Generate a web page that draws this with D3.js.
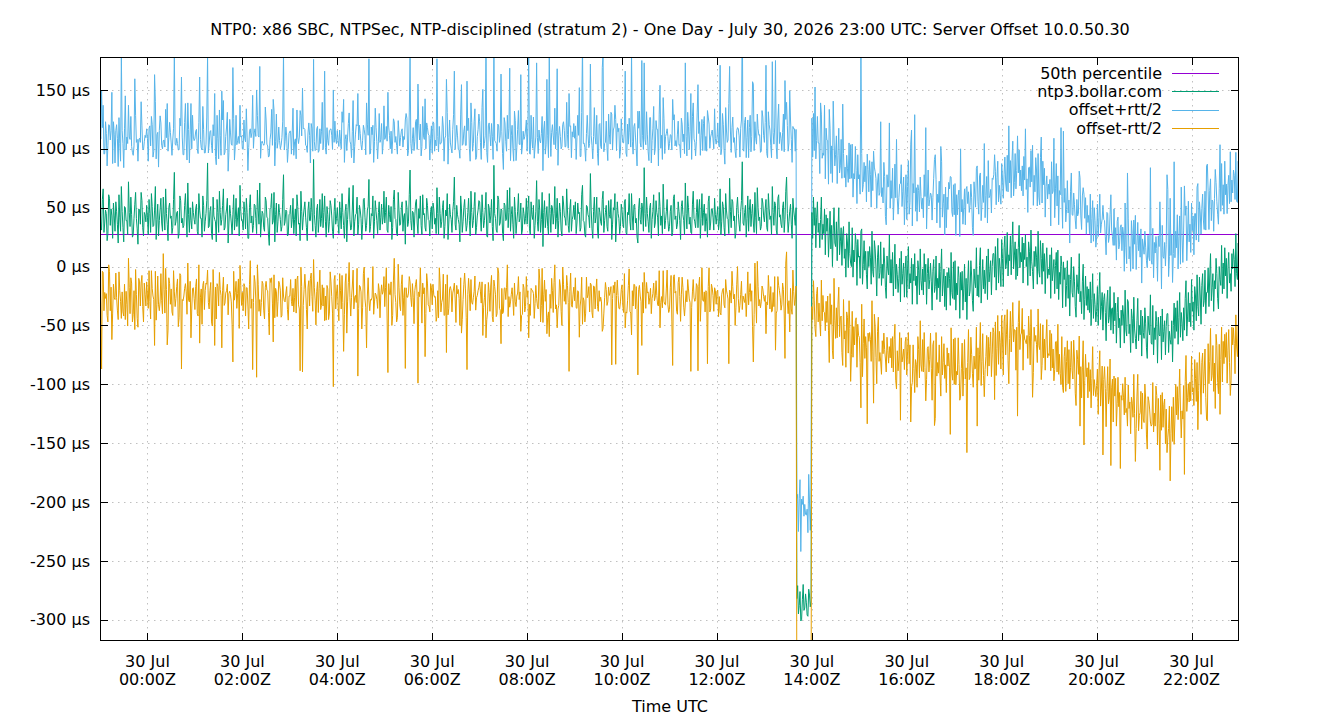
<!DOCTYPE html>
<html>
<head>
<meta charset="UTF-8">
<title>NTP0 Server Offset 10.0.50.30</title>
<script src="https://cdn.jsdelivr.net/npm/d3@7"></script>
<style>
    body {
        margin: 0;
        background-color: #ffffff;
    }
    text {
        font-family: "DejaVu Sans", sans-serif;
        font-size: 16px;
        fill: #000000;
    }
    .grid line {
        stroke: #c0c0c0;
        stroke-width: 1px;
        stroke-dasharray: 1.5, 4.5;
    }
    .series {
        fill: none;
        stroke-width: 1px;
    }
</style>
</head>
<body>
<div id="chart"></div>
<script>
    var chartTitle = "NTP0: x86 SBC, NTPSec, NTP-disciplined (stratum 2) - One Day - July 30, 2026 23:00 UTC: Server Offset 10.0.50.30";
    var xAxisTitle = "Time UTC";
    var seriesNames = ["50th percentile", "ntp3.bollar.com", "offset+rtt/2", "offset-rtt/2"];
    var seriesColors = ["#9400d3", "#009e73", "#56b4e9", "#e69f00"];

    var startTime = "2026-07-29T23:00:00Z";
    var endTime = "2026-07-30T23:00:00Z";
    var sampleMinutes = 1;
    var percentile50 = 28;   // µs

    var yTicks = [-300, -250, -200, -150, -100, -50, 0, 50, 100, 150];
    var xTicks = ["2026-07-30T00:00:00Z", "2026-07-30T02:00:00Z", "2026-07-30T04:00:00Z",
                  "2026-07-30T06:00:00Z", "2026-07-30T08:00:00Z", "2026-07-30T10:00:00Z",
                  "2026-07-30T12:00:00Z", "2026-07-30T14:00:00Z", "2026-07-30T16:00:00Z",
                  "2026-07-30T18:00:00Z", "2026-07-30T20:00:00Z", "2026-07-30T22:00:00Z"];

    // clock offset of ntp3.bollar.com in µs, one sample a minute (six lines = one hour)
    var offsetUs = [
        // 23:00
        52, 38, 31, 57, 66, 29, 37, 48, 45, 22,
        28, 61, 58, 35, 49, 43, 24, 54, 43, 30,
        55, 47, 36, 20, 61, 42, 30, 68, 47, 33,
        21, 51, 50, 39, 39, 27, 72, 46, 34, 59,
        44, 25, 27, 41, 53, 63, 41, 32, 19, 49,
        48, 36, 63, 56, 33, 26, 46, 44, 38, 52,
        // 00:00
        42, 27, 57, 45, 29, 62, 51, 34, 35, 48,
        68, 23, 40, 53, 26, 39, 49, 58, 37, 30,
        59, 44, 31, 66, 45, 36, 22, 50, 54, 41,
        43, 28, 33, 57, 80, 35, 38, 46, 47, 24,
        28, 60, 56, 37, 41, 33, 35, 52, 62, 43,
        25, 71, 44, 29, 50, 39, 32, 55, 46, 40,
        // 01:00
        36, 49, 53, 30, 27, 62, 48, 41, 41, 25,
        60, 52, 30, 38, 45, 56, 88, 33, 34, 47,
        51, 28, 23, 59, 43, 40, 38, 21, 57, 46,
        29, 64, 46, 35, 40, 52, 66, 31, 33, 44,
        49, 58, 20, 37, 52, 45, 37, 27, 44, 61,
        31, 40, 58, 34, 42, 50, 26, 69, 47, 39,
        // 02:00
        39, 31, 55, 46, 32, 58, 46, 24, 24, 50,
        61, 37, 43, 29, 35, 53, 52, 41, 28, 65,
        48, 36, 71, 25, 37, 47, 45, 33, 30, 59,
        56, 42, 41, 27, 18, 49, 50, 62, 36, 39,
        63, 21, 44, 54, 29, 38, 53, 46, 40, 30,
        34, 57, 78, 35, 38, 48, 47, 26, 27, 44,
        // 03:00
        45, 52, 33, 40, 58, 28, 40, 49, 26, 61,
        51, 36, 37, 22, 64, 47, 31, 42, 49, 55,
        42, 33, 22, 48, 55, 39, 39, 58, 46, 30,
        91, 44, 35, 25, 48, 53, 29, 40, 57, 34,
        41, 62, 33, 46, 60, 38, 25, 51, 44, 29,
        38, 56, 52, 43, 30, 24, 47, 58, 36, 41,
        // 04:00
        50, 37, 28, 55, 43, 32, 62, 46, 35, 24,
        47, 53, 21, 40, 54, 67, 40, 31, 33, 49,
        69, 26, 38, 44, 45, 59, 27, 36, 52, 48,
        41, 23, 36, 57, 58, 42, 30, 35, 48, 51,
        74, 29, 34, 45, 43, 60, 24, 38, 56, 47,
        39, 28, 46, 55, 31, 42, 53, 36, 42, 64,
        // 05:00
        37, 46, 59, 31, 29, 52, 44, 38, 51, 23,
        33, 57, 65, 41, 40, 28, 26, 63, 48, 35,
        36, 50, 55, 30, 42, 45, 19, 56, 50, 34,
        38, 61, 82, 39, 31, 47, 46, 25, 43, 54,
        57, 37, 28, 49, 41, 60, 35, 27, 61, 44,
        45, 33, 30, 58, 52, 40, 39, 26, 47, 51,
        // 06:00
        32, 54, 49, 36, 41, 28, 67, 45, 27, 59,
        45, 33, 38, 50, 56, 24, 34, 48, 43, 62,
        23, 37, 53, 44, 40, 29, 47, 55, 76, 36,
        31, 52, 44, 40, 36, 21, 60, 49, 29, 38,
        50, 57, 42, 30, 35, 46, 58, 39, 26, 64,
        46, 33, 39, 51, 63, 27, 33, 43, 48, 56,
        // 07:00
        55, 42, 30, 61, 46, 33, 39, 48, 63, 26,
        25, 53, 50, 37, 43, 57, 34, 22, 86, 45,
        41, 31, 29, 60, 57, 35, 37, 49, 48, 28,
        22, 54, 52, 39, 40, 65, 33, 46, 67, 30,
        44, 51, 36, 24, 59, 47, 28, 38, 47, 62,
        38, 41, 54, 27, 31, 50, 45, 36, 41, 58,
        // 08:00
        36, 49, 60, 32, 27, 55, 44, 40, 52, 24,
        35, 47, 73, 38, 30, 57, 48, 29, 40, 63,
        17, 46, 56, 33, 42, 51, 34, 27, 62, 45,
        29, 52, 50, 36, 45, 68, 32, 41, 58, 25,
        39, 54, 47, 31, 26, 60, 54, 43, 41, 35,
        66, 48, 35, 29, 49, 57, 30, 40, 43, 52,
        // 09:00
        40, 55, 28, 37, 54, 45, 46, 30, 33, 61,
        69, 39, 38, 27, 25, 52, 51, 44, 42, 33,
        79, 48, 32, 24, 47, 59, 37, 42, 59, 31,
        24, 50, 46, 38, 35, 57, 64, 29, 39, 46,
        52, 34, 30, 56, 44, 41, 57, 23, 36, 50,
        48, 62, 21, 37, 55, 45, 41, 28, 34, 53,
        // 10:00
        48, 36, 33, 55, 57, 29, 27, 46, 44, 62,
        38, 31, 62, 43, 31, 52, 53, 37, 41, 25,
        20, 49, 58, 40, 36, 54, 49, 30, 84, 45,
        34, 59, 45, 38, 29, 50, 54, 24, 40, 47,
        61, 33, 37, 56, 46, 42, 26, 63, 51, 35,
        43, 28, 70, 48, 32, 39, 47, 57, 39, 30,
        // 11:00
        34, 47, 52, 26, 29, 58, 61, 40, 43, 32,
        36, 55, 47, 39, 23, 51, 56, 44, 39, 27,
        71, 45, 32, 60, 50, 36, 42, 29, 28, 53,
        64, 41, 38, 33, 46, 57, 33, 48, 57, 24,
        41, 62, 35, 46, 53, 30, 45, 38, 25, 55,
        60, 31, 37, 49, 49, 42, 31, 58, 44, 36,
        // 12:00
        44, 51, 31, 38, 66, 27, 38, 55, 51, 33,
        26, 62, 48, 41, 40, 28, 75, 47, 33, 57,
        55, 39, 43, 24, 29, 50, 59, 45, 36, 30,
        47, 56, 89, 37, 35, 46, 52, 25, 41, 60,
        30, 48, 57, 34, 45, 53, 37, 29, 63, 42,
        28, 67, 50, 39, 42, 31, 34, 58, 54, 43,
        // 13:00 (step at 13:41)
        38, 49, 57, 33, 30, 62, 49, 40, 43, 27,
        68, 46, 35, 55, 52, 31, 27, 58, 61, 42,
        44, 36, 33, 50, 55, 29, 40, 64, 76, 45,
        29, 38, 47, 53, 36, 24, 58, 48, 42, 35,
        50, -282, -271, -295, -288, -276, -301, -300, -283, -270,
        -292, -290, -278, -285, -296, -297, -274, -279, -289, -284,
        // 14:00
        46, 24, 59, 35, 50, 16, 42, 55, 29, 37,
        16, 40, 59, 23, 36, 28, 49, 10, 44, 30,
        41, 8, 26, 47, 15, 35, 0, 31, 50, 20,
        17, 38, 5, 31, 50, 10, 21, 33, 1, 27,
        34, 7, 15, -9, 28, 20, -1, 38, 11, 3,
        0, 33, -9, 14, 4, 28, 19, -16, 23, 8,
        // 15:00
        9, -10, 30, 32, -15, 2, 22, -3, 13, -7,
        -19, 13, 0, 17, 8, -15, 30, -4, -9, 22,
        15, -1, -25, 8, 18, -10, -5, 21, -16, 2,
        -10, 16, 3, -18, -27, 9, -2, -7, 27, -14,
        6, -14, 12, -25, -2, 19, -19, 2, -7, -22,
        -10, 7, -30, 13, -15, -6, 3, -26, -2, 9,
        // 16:00
        -26, -2, 17, -19, -6, -14, 7, -32, 2, -12,
        11, -16, -8, -32, 5, -3, -24, 15, -12, -20,
        -2, -24, 11, -13, 2, -32, -6, 7, -19, -11,
        3, -13, -37, -4, 6, -22, -17, 9, -28, -10,
        -18, 3, -30, -4, 15, -25, -14, -2, -34, -8,
        -37, -5, -18, -1, -10, -33, 12, -22, -27, 4,
        // 17:00
        -28, 5, -37, -14, -24, 0, -9, -44, -5, -20,
        -4, -37, -19, 2, -30, -10, -45, -14, 5, -25,
        -21, 5, -8, -29, -38, -2, -13, -18, 16, -25,
        -7, -26, 1, 16, -31, -14, 6, -19, -3, -23,
        -8, 9, -28, 15, -13, -4, 5, -24, 0, 11,
        11, -9, 17, -20, 3, 24, -14, 7, -2, -17,
        // 18:00
        23, 7, -17, 16, 26, -2, 3, 29, -8, 10,
        5, 26, -7, 19, 38, -2, 9, 21, -11, 15,
        -8, 16, 35, -1, 12, 4, 25, -14, 20, 6,
        27, 0, 8, -16, 21, 13, -8, 31, 4, -4,
        -19, 13, 0, 17, 8, -15, 30, -4, -9, 22,
        7, -15, 20, -4, 11, -23, 3, 16, -10, -2,
        // 19:00
        -7, 10, -27, 16, -12, -3, 6, -23, 1, 12,
        -19, 14, -28, -5, -15, 9, 0, -35, 4, -11,
        -1, -34, -16, 5, -27, -7, -42, -11, 8, -22,
        -26, 0, -13, -34, -43, -7, -18, -23, 11, -30,
        -21, -40, -13, 2, -45, -28, -8, -33, -17, -37,
        -19, -39, -13, -50, -27, -6, -44, -23, -32, -47,
        // 20:00
        -38, -17, -50, -24, -5, -45, -34, -22, -54, -28,
        -23, -39, -63, -30, -20, -48, -43, -17, -54, -36,
        -35, -57, -22, -46, -31, -65, -39, -26, -52, -44,
        -69, -37, -50, -33, -42, -65, -20, -54, -59, -28,
        -30, -57, -49, -73, -36, -44, -65, -26, -53, -61,
        -70, -46, -27, -63, -50, -58, -37, -76, -42, -56,
        // 21:00
        -61, -35, -48, -69, -78, -42, -53, -58, -24, -65,
        -66, -33, -75, -52, -62, -38, -47, -82, -43, -58,
        -59, -42, -79, -36, -64, -55, -46, -75, -51, -40,
        -40, -73, -55, -62, -66, -46, -81, -50, -31, -61,
        -35, -55, -29, -66, -43, -22, -60, -39, -48, -63,
        -35, -54, -27, -12, -59, -42, -22, -47, -31, -51,
        // 22:00
        -11, -38, -30, -54, -17, -25, -46, -7, -34, -42,
        -9, -25, -49, -16, -6, -34, -29, -3, -40, -22,
        -22, -1, -34, -8, 11, -29, -18, -6, -38, -12,
        -19, 7, -6, -27, -36, 0, -11, -16, 18, -23,
        3, -19, 16, -8, 7, -27, -1, 12, -14, -6,
        -21, 11, -2, 15, 6, -17, 28, -6, -11, 20,
        // 23:00
        4
    ];

    // round trip time of the same samples in µs
    var rttUs = [
        // 23:00
        128, 141, 236, 122, 142, 133, 118, 150, 136, 127,
        150, 119, 124, 145, 133, 210, 127, 138, 139, 116,
        121, 147, 146, 130, 131, 125, 119, 224, 137, 143,
        126, 132, 190, 120, 142, 155, 130, 128, 148, 137,
        116, 144, 135, 123, 213, 131, 129, 152, 141, 118,
        122, 139, 154, 127, 134, 146, 120, 135, 143, 130,
        // 00:00
        134, 125, 121, 149, 147, 131, 139, 118, 126, 230,
        144, 137, 144, 122, 117, 153, 158, 128, 132, 140,
        96, 127, 141, 135, 129, 205, 152, 119, 137, 146,
        124, 133, 149, 121, 203, 138, 130, 126, 115, 150,
        143, 132, 127, 248, 138, 124, 120, 141, 153, 129,
        131, 136, 145, 118, 125, 199, 136, 147, 128, 134,
        // 01:00
        145, 132, 127, 140, 138, 121, 226, 134, 120, 148,
        152, 129, 133, 117, 118, 142, 182, 127, 140, 135,
        129, 150, 147, 123, 136, 214, 111, 131, 143, 126,
        125, 138, 131, 119, 218, 145, 150, 128, 128, 133,
        139, 146, 122, 120, 146, 137, 134, 152, 250, 130,
        119, 124, 141, 139, 130, 121, 157, 136, 126, 144,
        // 02:00
        122, 137, 139, 126, 148, 152, 128, 115, 154, 130,
        112, 145, 141, 233, 131, 121, 130, 139, 244, 127,
        126, 148, 198, 134, 135, 119, 119, 140, 149, 153,
        137, 124, 123, 132, 152, 118, 127, 143, 134, 206,
        140, 129, 125, 151, 143, 135, 131, 122, 120, 146,
        151, 133, 206, 128, 136, 141, 128, 125, 145, 138,
        // 03:00
        140, 126, 125, 147, 153, 133, 132, 119, 131, 144,
        118, 137, 146, 221, 129, 128, 241, 150, 137, 123,
        122, 139, 150, 131, 134, 145, 98, 127, 143, 136,
        170, 124, 127, 149, 138, 132, 136, 117, 120, 141,
        148, 155, 133, 128, 212, 126, 141, 134, 126, 148,
        155, 121, 130, 137, 139, 252, 117, 131, 144, 127,
        // 04:00
        131, 140, 148, 122, 127, 136, 139, 153, 214, 129,
        122, 118, 155, 140, 135, 127, 133, 146, 119, 131,
        144, 124, 128, 137, 151, 121, 240, 143, 136, 130,
        125, 152, 142, 126, 117, 139, 130, 208, 146, 121,
        205, 133, 124, 147, 138, 120, 129, 136, 157, 142,
        134, 127, 121, 150, 149, 132, 137, 119, 126, 145,
        // 05:00
        142, 128, 120, 151, 238, 133, 135, 124, 128, 146,
        149, 137, 116, 129, 141, 150, 139, 122, 131, 135,
        147, 130, 124, 143, 137, 126, 211, 148, 152, 120,
        121, 139, 190, 131, 130, 123, 144, 147, 127, 138,
        136, 125, 254, 141, 133, 122, 118, 150, 150, 134,
        126, 219, 140, 128, 132, 145, 145, 129, 123, 137,
        // 06:00
        129, 138, 146, 124, 133, 149, 219, 131, 141, 120,
        118, 143, 137, 155, 125, 131, 150, 126, 232, 138,
        128, 145, 143, 122, 121, 135, 139, 148, 180, 127,
        157, 136, 134, 119, 126, 142, 139, 211, 148, 132,
        130, 125, 122, 146, 245, 139, 136, 123, 127, 150,
        153, 130, 131, 144, 142, 128, 119, 135, 137, 147,
        // 07:00
        136, 127, 122, 148, 209, 135, 131, 126, 247, 142,
        127, 133, 144, 150, 119, 129, 153, 138, 195, 124,
        130, 147, 138, 122, 125, 141, 148, 229, 133, 136,
        121, 145, 140, 134, 116, 127, 151, 143, 203, 120,
        135, 138, 128, 131, 146, 154, 124, 126, 139, 141,
        132, 125, 218, 137, 143, 130, 126, 149, 150, 133,
        // 08:00
        124, 139, 241, 128, 137, 147, 128, 121, 150, 136,
        133, 126, 200, 143, 132, 118, 119, 152, 146, 129,
        129, 140, 135, 125, 123, 216, 154, 131, 243, 137,
        129, 124, 141, 150, 117, 133, 136, 147, 220, 122,
        144, 130, 127, 138, 152, 121, 138, 145, 121, 134,
        147, 128, 131, 236, 140, 125, 125, 149, 134, 139,
        // 09:00
        138, 129, 126, 145, 149, 133, 212, 127, 121, 140,
        236, 131, 134, 148, 129, 122, 155, 136, 118, 143,
        186, 127, 142, 135, 127, 152, 146, 124, 139, 130,
        124, 141, 151, 128, 130, 224, 233, 137, 131, 119,
        143, 134, 120, 147, 137, 126, 148, 213, 126, 132,
        141, 150, 208, 123, 133, 139, 153, 128, 128, 145,
        // 10:00
        127, 139, 144, 122, 218, 135, 133, 150, 120, 128,
        152, 141, 240, 127, 129, 134, 137, 146, 116, 121,
        224, 137, 148, 130, 131, 242, 125, 139, 178, 126,
        139, 145, 135, 119, 122, 153, 145, 128, 134, 140,
        150, 124, 126, 136, 141, 149, 119, 133, 206, 131,
        137, 126, 147, 155, 128, 143, 132, 120, 143, 138,
        // 11:00
        141, 130, 119, 146, 226, 133, 136, 125, 128, 140,
        153, 137, 112, 129, 139, 150, 130, 124, 147, 138,
        204, 131, 124, 142, 138, 127, 145, 236, 126, 149,
        150, 135, 135, 122, 121, 147, 243, 130, 132, 141,
        140, 126, 127, 151, 149, 137, 131, 120, 215, 144,
        122, 139, 146, 128, 134, 133, 138, 152, 129, 136,
        // 12:00
        130, 142, 147, 127, 210, 136, 124, 150, 139, 131,
        122, 146, 136, 129, 135, 221, 190, 138, 128, 122,
        144, 133, 133, 148, 127, 131, 118, 144, 150, 126,
        141, 137, 251, 124, 126, 153, 150, 135, 137, 129,
        125, 140, 143, 127, 131, 208, 236, 139, 120, 134,
        152, 125, 134, 145, 140, 132, 128, 149, 146, 137,
        // 13:00
        135, 147, 228, 126, 125, 139, 143, 152, 120, 131,
        212, 136, 138, 127, 246, 141, 129, 133, 154, 125,
        140, 146, 131, 128, 149, 137, 236, 122, 127, 150,
        138, 134, 205, 143, 144, 129, 122, 138, 150, 126,
        133, 170, 155, 140, 182, 190, 118, 205, 162, 150,
        160, 176, 135, 148, 180, 142, 195, 158, 130, 166,
        // 14:00
        160, 138, 142, 127, 205, 151, 130, 145, 152, 136,
        126, 198, 141, 138, 121, 133, 176, 129, 147, 155,
        132, 124, 215, 140, 128, 135, 143, 219, 120, 131,
        156, 146, 131, 127, 135, 139, 129, 150, 148, 222,
        124, 137, 139, 153, 133, 126, 145, 134, 127, 201,
        150, 142, 136, 130, 141, 148, 125, 139, 144, 133,
        // 15:00
        138, 143, 300, 128, 157, 135, 133, 150, 145, 124,
        229, 139, 127, 146, 140, 131, 118, 137, 214, 125,
        131, 152, 149, 126, 122, 141, 136, 204, 151, 130,
        128, 145, 147, 121, 125, 138, 139, 150, 190, 127,
        134, 144, 143, 129, 120, 136, 155, 212, 129, 133,
        137, 126, 201, 147, 132, 140, 146, 123, 124, 138,
        // 16:00
        132, 140, 146, 127, 121, 236, 218, 133, 137, 149,
        236, 126, 150, 141, 129, 135, 141, 122, 143, 138,
        120, 131, 134, 145, 232, 128, 127, 150, 141, 136,
        119, 147, 153, 125, 138, 226, 224, 130, 130, 143,
        145, 139, 126, 212, 149, 134, 135, 127, 122, 151,
        140, 128, 133, 145, 152, 219, 128, 137, 139, 131,
        // 17:00
        144, 131, 127, 150, 136, 121, 148, 139, 210, 133,
        122, 146, 139, 128, 131, 152, 226, 135, 117, 142,
        146, 130, 133, 124, 129, 148, 148, 137, 135, 221,
        124, 141, 152, 127, 140, 133, 126, 147, 215, 129,
        137, 135, 130, 150, 143, 128, 121, 139, 150, 126,
        134, 208, 128, 145, 145, 131, 138, 124, 125, 140,
        // 18:00
        129, 137, 150, 125, 134, 146, 122, 131, 143, 219,
        132, 128, 131, 142, 137, 124, 125, 150, 154, 133,
        238, 127, 128, 139, 140, 121, 121, 148, 147, 135,
        180, 131, 133, 124, 126, 143, 151, 135, 136, 214,
        142, 129, 127, 151, 148, 133, 132, 126, 123, 141,
        206, 138, 139, 147, 145, 130, 130, 122, 135, 144,
        // 19:00
        137, 128, 123, 146, 148, 134, 206, 129, 130, 151,
        141, 126, 127, 139, 152, 218, 119, 135, 222, 131,
        135, 144, 129, 136, 145, 127, 124, 150, 143, 132,
        139, 125, 131, 147, 150, 128, 122, 137, 140, 211,
        128, 143, 146, 130, 213, 138, 133, 121, 138, 149,
        125, 134, 149, 140, 136, 124, 131, 146, 142, 127,
        // 20:00
        126, 140, 151, 131, 133, 147, 140, 125, 212, 136,
        124, 129, 146, 152, 130, 137, 137, 123, 230, 134,
        121, 150, 142, 128, 128, 141, 155, 136, 134, 126,
        205, 145, 127, 133, 139, 122, 148, 140, 123, 215,
        141, 127, 132, 138, 150, 144, 126, 131, 144, 209,
        135, 128, 129, 153, 153, 132, 138, 124, 131, 147,
        // 21:00
        143, 130, 129, 148, 154, 137, 122, 126, 216, 141,
        136, 131, 131, 145, 147, 127, 125, 139, 138, 150,
        228, 134, 120, 142, 145, 124, 133, 151, 140, 236,
        211, 129, 127, 240, 151, 146, 135, 122, 240, 137,
        130, 142, 146, 128, 137, 130, 124, 213, 149, 133,
        132, 245, 141, 127, 128, 139, 155, 136, 134, 126,
        // 22:00
        130, 137, 146, 128, 124, 140, 137, 149, 209, 126,
        128, 141, 153, 131, 135, 147, 121, 134, 142, 215,
        218, 129, 131, 145, 127, 136, 149, 122, 136, 140,
        203, 129, 122, 143, 144, 132, 229, 126, 139, 150,
        133, 127, 147, 138, 126, 144, 140, 131, 135, 207,
        152, 125, 129, 134, 143, 148, 138, 123, 131, 139,
        // 23:00
        134
    ];

    var width = 1340,
        height = 720,
        margin = {top: 57, right: 101, bottom: 79, left: 100};

    var t0 = new Date(startTime);
    var samples = offsetUs.map(function(d, i) {
        return {
            time: new Date(t0.getTime() + i * sampleMinutes * 60000),
            offset: d,
            rtt: rttUs[i]
        };
    });

    var x = d3.scaleUtc()
        .domain([new Date(startTime), new Date(endTime)])
        .range([margin.left, width - margin.right]);

    var y = d3.scaleLinear()
        .domain([-318, 178])
        .range([height - margin.bottom, margin.top]);

    var svg = d3.select("#chart").append("svg")
        .attr("width", width)
        .attr("height", height);

    svg.append("rect")
        .attr("width", width)
        .attr("height", height)
        .attr("fill", "#ffffff");

    svg.append("defs").append("clipPath")
        .attr("id", "plot-clip")
        .append("rect")
        .attr("x", margin.left)
        .attr("y", margin.top)
        .attr("width", width - margin.left - margin.right)
        .attr("height", height - margin.top - margin.bottom);

    // title
    svg.append("text")
        .attr("x", 670)
        .attr("y", 29)
        .attr("dy", "0.35em")
        .attr("text-anchor", "middle")
        .text(chartTitle);

    // dotted grid
    var grid = svg.append("g").attr("class", "grid");
    grid.selectAll(".gy")
        .data(yTicks)
        .enter().append("line")
        .attr("x1", margin.left)
        .attr("x2", width - margin.right)
        .attr("y1", function(d) { return Math.round(y(d)) + 0.5; })
        .attr("y2", function(d) { return Math.round(y(d)) + 0.5; });
    grid.selectAll(".gx")
        .data(xTicks)
        .enter().append("line")
        .attr("x1", function(d) { return Math.round(x(new Date(d))) + 0.5; })
        .attr("x2", function(d) { return Math.round(x(new Date(d))) + 0.5; })
        .attr("y1", margin.top)
        .attr("y2", height - margin.bottom);

    var plot = svg.append("g").attr("clip-path", "url(#plot-clip)");

    // 50th percentile
    var pY = Math.round(y(percentile50)) + 0.5;
    plot.append("line")
        .attr("x1", x(new Date(startTime)))
        .attr("x2", x(new Date(endTime)))
        .attr("y1", pY)
        .attr("y2", pY)
        .attr("stroke", seriesColors[0])
        .attr("stroke-width", 1);

    var lineUp = d3.line()
        .x(function(d) { return x(d.time); })
        .y(function(d) { return y(d.offset + d.rtt / 2); });
    var lineOffset = d3.line()
        .x(function(d) { return x(d.time); })
        .y(function(d) { return y(d.offset); });
    var lineDown = d3.line()
        .x(function(d) { return x(d.time); })
        .y(function(d) { return y(d.offset - d.rtt / 2); });

    plot.append("path")
        .datum(samples)
        .attr("class", "series")
        .attr("stroke", seriesColors[2])
        .attr("d", lineUp);
    plot.append("path")
        .datum(samples)
        .attr("class", "series")
        .attr("stroke", seriesColors[1])
        .attr("d", lineOffset);
    plot.append("path")
        .datum(samples)
        .attr("class", "series")
        .attr("stroke", seriesColors[3])
        .attr("d", lineDown);

    // border and ticks (mirrored like gnuplot)
    var tickLen = 8;
    var axes = svg.append("g").attr("stroke", "#000000").attr("stroke-width", 1);

    axes.selectAll(".ty")
        .data(yTicks)
        .enter().append("path")
        .attr("d", function(d) {
            var yy = Math.round(y(d)) + 0.5;
            return "M" + margin.left + "," + yy + "h" + tickLen +
                   "M" + (width - margin.right) + "," + yy + "h" + (-tickLen);
        });
    axes.selectAll(".tx")
        .data(xTicks)
        .enter().append("path")
        .attr("d", function(d) {
            var xx = Math.round(x(new Date(d))) + 0.5;
            return "M" + xx + "," + (height - margin.bottom) + "v" + (-tickLen) +
                   "M" + xx + "," + margin.top + "v" + tickLen;
        });
    axes.append("rect")
        .attr("x", margin.left + 0.5)
        .attr("y", margin.top + 0.5)
        .attr("width", width - margin.left - margin.right - 1)
        .attr("height", height - margin.top - margin.bottom - 1)
        .attr("fill", "none");

    // tick labels
    svg.selectAll(".ylab")
        .data(yTicks)
        .enter().append("text")
        .attr("x", margin.left - 10)
        .attr("y", function(d) { return y(d); })
        .attr("dy", "0.35em")
        .attr("text-anchor", "end")
        .text(function(d) { return d + " µs"; });

    var dayFmt = d3.utcFormat("%d %b"),
        hourFmt = d3.utcFormat("%H:%MZ");
    var xlab = svg.selectAll(".xlab")
        .data(xTicks)
        .enter().append("text")
        .attr("text-anchor", "middle");
    xlab.append("tspan")
        .attr("x", function(d) { return x(new Date(d)); })
        .attr("y", 661)
        .attr("dy", "0.35em")
        .text(function(d) { return dayFmt(new Date(d)); });
    xlab.append("tspan")
        .attr("x", function(d) { return x(new Date(d)); })
        .attr("y", 679)
        .attr("dy", "0.35em")
        .text(function(d) { return hourFmt(new Date(d)); });

    svg.append("text")
        .attr("x", 670)
        .attr("y", 706)
        .attr("dy", "0.35em")
        .attr("text-anchor", "middle")
        .text(xAxisTitle);

    // legend, top right inside the plot
    var legend = svg.append("g");
    seriesNames.forEach(function(name, i) {
        var ly = 73 + i * 18.3;
        legend.append("text")
            .attr("x", 1162)
            .attr("y", ly)
            .attr("dy", "0.35em")
            .attr("text-anchor", "end")
            .text(name);
        legend.append("line")
            .attr("x1", 1172)
            .attr("x2", 1219)
            .attr("y1", Math.round(ly) + 0.5)
            .attr("y2", Math.round(ly) + 0.5)
            .attr("stroke", seriesColors[i])
            .attr("stroke-width", 1);
    });
</script>
</body>
</html>
